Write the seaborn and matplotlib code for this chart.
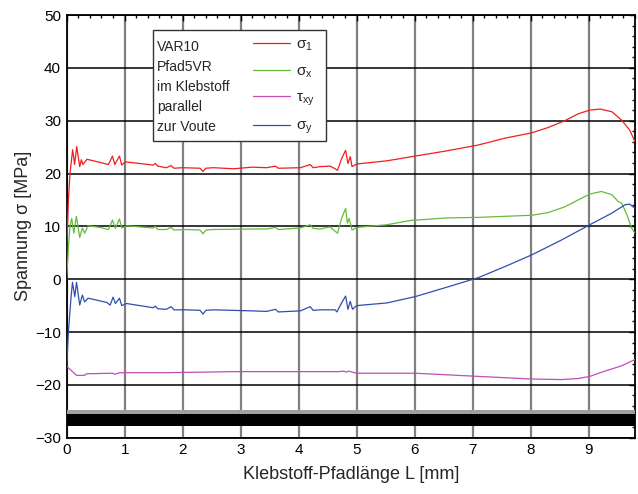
import matplotlib
matplotlib.use("Agg")
import matplotlib.pyplot as plt
import seaborn as sns
from matplotlib.patches import Rectangle
from matplotlib.ticker import MultipleLocator

# sigma_1 (red)
sigma1_x = [0, 0.03, 0.057, 0.103, 0.137, 0.173, 0.225, 0.253, 0.28, 0.35, 0.575, 0.72, 0.79, 0.83,
            0.91, 0.95, 1.01, 1.26, 1.49, 1.53, 1.57, 1.72, 1.80, 1.85, 2.0, 2.3, 2.35, 2.4, 2.53, 2.88,
            3.2, 3.45, 3.6, 3.65, 4.03, 4.2, 4.25, 4.37, 4.54, 4.63, 4.67, 4.74, 4.81, 4.85, 4.89, 4.92,
            5.0, 5.52, 6.01, 6.56, 7.1, 7.56, 8.02, 8.3, 8.59, 8.82, 9.02, 9.2, 9.4, 9.57, 9.71, 9.8]
sigma1_y = [5, 15, 20, 24.5, 21.7, 25.1, 21.3, 22.6, 21.7, 22.7, 22.1, 21.7, 23.3, 21.7,
            23.3, 21.6, 22.2, 21.9, 21.6, 21.9, 21.4, 21.1, 21.5, 21.0, 21.1, 21.0, 20.4, 21.0, 21.1, 20.9,
            21.2, 21.1, 21.4, 21.0, 21.1, 21.7, 21.1, 21.3, 21.4, 20.9, 20.6, 22.8, 24.4, 21.9, 23.2, 21.3,
            21.8, 22.4, 23.3, 24.3, 25.4, 26.7, 27.7, 28.7, 30.0, 31.3, 32.0, 32.2, 31.7, 30.1, 28.2, 26.0]

# sigma_x (green)
sigmax_x = [0, 0.03, 0.057, 0.086, 0.124, 0.167, 0.225, 0.27, 0.31, 0.37, 0.575, 0.72, 0.79, 0.84,
            0.91, 0.95, 1.03, 1.49, 1.53, 1.57, 1.72, 1.80, 1.85, 2.07, 2.3, 2.35, 2.4, 2.53, 3.2, 3.45,
            3.6, 3.65, 4.03, 4.2, 4.25, 4.37, 4.54, 4.67, 4.74, 4.81, 4.84, 4.87, 4.92, 5.0, 5.52, 5.92,
            6.56, 7.1, 8.02, 8.3, 8.59, 8.82, 9.02, 9.22, 9.4, 9.51, 9.57, 9.66, 9.74, 9.8]
sigmax_y = [0, 6, 10, 11.5, 8.7, 11.9, 7.9, 9.7, 8.7, 10.1, 9.8, 9.4, 11.2, 9.6,
            11.4, 9.7, 10.1, 9.7, 10.0, 9.4, 9.4, 9.8, 9.3, 9.4, 9.3, 8.6, 9.3, 9.4, 9.5, 9.5,
            9.8, 9.4, 9.7, 10.3, 9.6, 9.5, 9.9, 8.7, 11.5, 13.4, 10.6, 11.5, 9.3, 9.8, 10.3, 11.1,
            11.6, 11.7, 12.1, 12.6, 13.7, 15.0, 16.1, 16.6, 16.0, 14.7, 14.4, 12.2, 9.7, 8.7]

# tau_xy (magenta)
tauxy_x = [0, 0.03, 0.06, 0.17, 0.31, 0.34, 0.8, 0.83, 0.91, 1.72, 2.88, 4.37, 4.7, 4.78, 4.82, 4.86,
           5.0, 6.01, 7.1, 8.02, 8.53, 8.82, 9.02, 9.28, 9.57, 9.8]
tauxy_y = [-16.5, -16.8, -17.1, -18.2, -18.2, -17.9, -17.8, -18.0, -17.7, -17.7, -17.5, -17.5, -17.5,
           -17.4, -17.6, -17.4, -17.8, -17.8, -18.4, -18.9, -19.0, -18.8, -18.4, -17.4, -16.4, -15.2]

# sigma_y (blue)
sigmay_x = [0, 0.03, 0.074, 0.1, 0.14, 0.17, 0.225, 0.27, 0.31, 0.37, 0.69, 0.75, 0.8, 0.84, 0.91,
            0.95, 1.03, 1.49, 1.53, 1.57, 1.72, 1.80, 1.85, 2.07, 2.3, 2.35, 2.4, 2.53, 3.2, 3.45, 3.6,
            3.65, 4.03, 4.2, 4.25, 4.37, 4.63, 4.66, 4.74, 4.81, 4.85, 4.89, 4.93, 5.0, 5.52, 6.01, 6.5,
            7.1, 7.56, 8.02, 8.53, 9.02, 9.4, 9.63, 9.71, 9.8]
sigmay_y = [-17, -9.9, -3.6, -0.6, -3.3, -0.6, -4.9, -3.0, -4.3, -3.6, -4.4, -4.9, -3.4, -4.6, -3.6,
            -5.0, -4.6, -5.4, -5.1, -5.6, -5.7, -5.2, -5.8, -5.8, -5.9, -6.6, -5.9, -5.8, -6.0, -6.1, -5.7,
            -6.2, -6.0, -5.2, -5.9, -5.8, -5.8, -6.2, -4.5, -3.2, -5.7, -4.2, -5.7, -5.0, -4.5, -3.3, -1.7,
            0.3, 2.4, 4.6, 7.4, 10.3, 12.5, 14.1, 14.2, 13.4]

series_labels = [r"$\sigma_1$", r"$\sigma_x$", r"$\tau_{xy}$", r"$\sigma_y$"]
series_colors = ["#f01e1e", "#66bb3a", "#c04eb4", "#2f4fae"]
info_lines = ["VAR10", "Pfad5VR", "im Klebstoff", "parallel", "zur Voute"]

sns.set_style("white")
plt.rcParams["font.family"] = ["Liberation Sans", "DejaVu Sans"]
plt.rcParams["mathtext.fontset"] = "custom"
plt.rcParams["mathtext.rm"] = "Liberation Sans"
plt.rcParams["mathtext.it"] = "Liberation Sans"

fig = plt.figure(figsize=(6.38, 4.94), dpi=100)
ax = fig.add_axes([0.1045, 0.114, 0.8908, 0.8556])

data = [(sigma1_x, sigma1_y), (sigmax_x, sigmax_y), (tauxy_x, tauxy_y), (sigmay_x, sigmay_y)]
handles = []
for (xs, ys), col in zip(data, series_colors):
    sns.lineplot(x=xs, y=ys, ax=ax, color=col, linewidth=0.9, sort=False, estimator=None, zorder=4)
    handles.append(ax.get_lines()[-1])

ax.set_xlim(0, 9.8)
ax.set_ylim(-30, 50)
ax.xaxis.set_major_locator(MultipleLocator(1))
ax.xaxis.set_minor_locator(MultipleLocator(0.2))
ax.yaxis.set_major_locator(MultipleLocator(10))
ax.yaxis.set_minor_locator(MultipleLocator(2))
ax.tick_params(which="both", direction="in", top=True, right=True, colors="black", width=1.0)
ax.tick_params(which="major", length=4.5, labelsize=11, pad=4)
ax.tick_params(which="minor", length=2.2)

ax.xaxis.grid(True, color="#808080", linewidth=1.6, zorder=1)
ax.yaxis.grid(True, color="black", linewidth=1.1, zorder=1)
ax.set_axisbelow(True)

# dark band at the bottom
ax.axhspan(-25.5, -24.8, color="#a0a0a0", zorder=3, linewidth=0)
ax.axhspan(-27.8, -25.5, color="black", zorder=3, linewidth=0)

for side in ax.spines.values():
    side.set_color("black")
    side.set_linewidth(1.3)

ax.set_xlabel("Klebstoff-Pfadlänge L [mm]", fontsize=13, labelpad=6)
ax.set_ylabel("Spannung σ [MPa]", fontsize=13, labelpad=2)

# info box with legend
ax.add_patch(Rectangle((0.1513, 0.702), 0.3044, 0.2625, transform=ax.transAxes,
                       facecolor="white", edgecolor="#333333", linewidth=1.0, zorder=5))
for i, line in enumerate(info_lines):
    ax.text(0.159, 0.925 - i * 0.0473, line, transform=ax.transAxes, fontsize=10,
            va="center", ha="left", zorder=6)
leg = ax.legend(handles, series_labels, loc="upper left", bbox_to_anchor=(0.328, 0.946),
                frameon=False, fontsize=11, handlelength=2.4, handletextpad=0.4,
                labelspacing=0.72, borderpad=0, borderaxespad=0)
leg.set_zorder(7)

fig.savefig("out.png", dpi=100)
